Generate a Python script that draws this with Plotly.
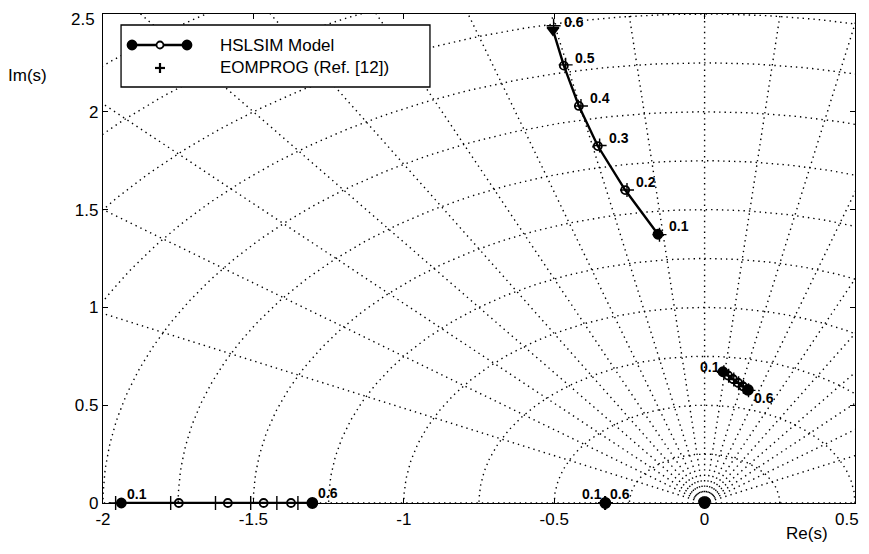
import math
import plotly.graph_objects as go

# ---------------- grid parameters (s-plane grid) ----------------
zeta_lines = [-1.0, -0.9, -0.8, -0.7, -0.6, -0.5, -0.4, -0.3, -0.2, -0.1, 0.0,
              0.1, 0.2, 0.3, 0.4, 0.5, 0.6, 0.7, 0.8, 0.9, 1.0]
wn_circles = [0.25, 0.5, 0.75, 1.0, 1.25, 1.5, 1.75, 2.0, 2.25, 2.5, 2.75, 3.0]

# ---------------- data ----------------
param_labels = ["0.1", "0.2", "0.3", "0.4", "0.5", "0.6"]

# HSLSIM model roots
hs_up_re = [-0.155, -0.264, -0.355, -0.418, -0.468, -0.504]
hs_up_im = [1.374, 1.600, 1.825, 2.030, 2.236, 2.418]

hs_mid_re = [0.061, 0.078, 0.094, 0.111, 0.127, 0.144]
hs_mid_im = [0.671, 0.652, 0.634, 0.615, 0.597, 0.578]

hs_real_re = [-1.939, -1.748, -1.585, -1.466, -1.375, -1.304]
hs_real_im = [0.0, 0.0, 0.0, 0.0, 0.0, 0.0]

hs_p33_re = [-0.330, -0.330, -0.330, -0.330, -0.330, -0.330]
hs_p33_im = [0.0, 0.0, 0.0, 0.0, 0.0, 0.0]

hs_org_re = [0.0, 0.0, 0.0, 0.0, 0.0, 0.0]
hs_org_im = [0.0, 0.0, 0.0, 0.0, 0.0, 0.0]

# EOMPROG (Ref. [12]) roots
eo_up_re = [-0.150, -0.258, -0.349, -0.411, -0.462, -0.502]
eo_up_im = [1.372, 1.600, 1.828, 2.030, 2.240, 2.440]

eo_mid_re = [0.064, 0.080, 0.097, 0.113, 0.129, 0.146]
eo_mid_im = [0.668, 0.650, 0.631, 0.612, 0.594, 0.576]

eo_real_re = [-1.958, -1.775, -1.626, -1.509, -1.422, -1.352]
eo_real_im = [0.0, 0.0, 0.0, 0.0, 0.0, 0.0]

eo_p33_re = [-0.330, -0.330, -0.330, -0.330, -0.330, -0.330]
eo_p33_im = [0.0, 0.0, 0.0, 0.0, 0.0, 0.0]

x_ticks = [-2, -1.5, -1, -0.5, 0, 0.5]
x_tick_text = ["-2", "-1.5", "-1", "-0.5", "0", "0.5"]
y_ticks = [0, 0.5, 1, 1.5, 2, 2.5]
y_tick_text = ["0", "0.5", "1", "1.5", "2", "2.5"]

FONT = "Liberation Sans, Arial, Helvetica, sans-serif"
GRID = dict(color="#000000", width=1.4, dash="1.4px,4px")

fig = go.Figure()

# ---------------- s-plane grid ----------------
R = 4.0
for z in zeta_lines:
    fig.add_trace(go.Scatter(
        x=[0.0, -z * R], y=[0.0, math.sqrt(max(0.0, 1 - z * z)) * R],
        mode="lines", line=GRID, hoverinfo="skip", showlegend=False))
for w in wn_circles:
    th = [math.pi * k / 240 for k in range(241)]
    fig.add_trace(go.Scatter(
        x=[w * math.cos(t) for t in th], y=[w * math.sin(t) for t in th],
        mode="lines", line=GRID, hoverinfo="skip", showlegend=False))


def end_marks(n, last="circle"):
    sym = ["circle"] + ["circle-open"] * (n - 2) + [last]
    size = [9] + [8] * (n - 2) + [10]
    return sym, size


def add_branch(xs, ys, last="circle"):
    sym, size = end_marks(len(xs), last)
    fig.add_trace(go.Scatter(
        x=xs, y=ys, mode="lines+markers", cliponaxis=False,
        line=dict(color="#000000", width=2.4),
        marker=dict(symbol=sym, size=size, color="#000000", opacity=1,
                    line=dict(color="#000000", width=1.8)),
        showlegend=False))


def add_plus(xs, ys):
    fig.add_trace(go.Scatter(
        x=xs, y=ys, mode="markers", cliponaxis=False,
        marker=dict(symbol="cross-thin", size=10, opacity=1,
                    line=dict(color="#000000", width=1.4)),
        showlegend=False))


add_plus(eo_up_re, eo_up_im)
add_plus(eo_mid_re, eo_mid_im)
add_plus(eo_real_re, eo_real_im)
add_plus(eo_p33_re, eo_p33_im)

add_branch(hs_up_re, hs_up_im, last="triangle-down")
add_branch(hs_mid_re, hs_mid_im)
add_branch(hs_real_re, hs_real_im)
add_branch(hs_p33_re, hs_p33_im)
add_branch(hs_org_re, hs_org_im)

# ---------------- parameter labels ----------------
ann = []


def lab(x, y, t, dx, dy):
    ann.append(dict(x=x, y=y, xref="x", yref="y", text="<b>%s</b>" % t,
                    showarrow=False, xshift=dx, yshift=dy,
                    xanchor="center", yanchor="middle",
                    font=dict(family=FONT, size=14, color="black")))


for i, t in enumerate(param_labels):
    lab(hs_up_re[i], hs_up_im[i], t, 21, 8)
lab(hs_real_re[0], hs_real_im[0], param_labels[0], 16, 9)
lab(hs_real_re[-1], hs_real_im[-1], param_labels[-1], 16, 10)
lab(hs_p33_re[0], hs_p33_im[0], param_labels[0], -13, 9)
lab(hs_p33_re[-1], hs_p33_im[-1], param_labels[-1], 15, 9)
lab(hs_mid_re[0], hs_mid_im[0], param_labels[0], -13, 5)
lab(hs_mid_re[-1], hs_mid_im[-1], param_labels[-1], 16, -8)

# axis titles
ann.append(dict(x=-0.101, y=0.875, xref="paper", yref="paper", text="Im(s)",
                xanchor="center", yanchor="middle",
                showarrow=False, font=dict(family=FONT, size=17, color="black")))
ann.append(dict(x=0.936, y=-0.062, xref="paper", yref="paper", text="Re(s)",
                xanchor="center", yanchor="middle",
                showarrow=False, font=dict(family=FONT, size=17, color="black")))

# edge tick labels drawn as annotations kept inside the figure area
ann.append(dict(x=1, y=0, xref="paper", yref="paper", text=x_tick_text[-1],
                xanchor="right", yanchor="top", xshift=6, yshift=-5,
                showarrow=False, font=dict(family=FONT, size=17, color="black")))
ann.append(dict(x=0, y=1, xref="paper", yref="paper", text=y_tick_text[-1],
                xanchor="right", yanchor="top", xshift=-6, yshift=6,
                showarrow=False, font=dict(family=FONT, size=17, color="black")))
x_tick_shown = x_tick_text[:-1] + [""]
y_tick_shown = y_tick_text[:-1] + [""]

# ---------------- manual legend ----------------
shapes = [dict(type="rect", xref="paper", yref="paper", x0=0.024, x1=0.4348,
               y0=0.8507, y1=0.9775, line=dict(color="black", width=1.3),
               fillcolor="white", layer="above")]
ly1 = 0.9366
ly2 = 0.8896
shapes.append(dict(type="line", xref="paper", yref="paper", x0=0.0386, x1=0.1117,
                   y0=ly1, y1=ly1, line=dict(color="black", width=2.4), layer="above"))
for cx, filled in [(0.0386, True), (0.0758, False), (0.1117, True)]:
    r = 4.5 if filled else 3.5
    shapes.append(dict(type="circle", xref="paper", yref="paper",
                       xsizemode="pixel", ysizemode="pixel", xanchor=cx, yanchor=ly1,
                       x0=-r, x1=r, y0=-r, y1=r,
                       fillcolor="black" if filled else "white",
                       line=dict(color="black", width=1.8), layer="above"))
shapes.append(dict(type="line", xref="paper", yref="paper", xsizemode="pixel",
                   ysizemode="pixel", xanchor=0.0758, yanchor=ly2, x0=-5, x1=5, y0=0, y1=0,
                   line=dict(color="black", width=2.2), layer="above"))
shapes.append(dict(type="line", xref="paper", yref="paper", xsizemode="pixel",
                   ysizemode="pixel", xanchor=0.0758, yanchor=ly2, x0=0, x1=0, y0=-5, y1=5,
                   line=dict(color="black", width=2.2), layer="above"))
ann.append(dict(x=0.1535, y=ly1, xref="paper", yref="paper", text="HSLSIM Model",
                xanchor="left", yanchor="middle", showarrow=False,
                font=dict(family=FONT, size=17, color="black")))
ann.append(dict(x=0.1535, y=ly2, xref="paper", yref="paper", text="EOMPROG (Ref. [12])",
                xanchor="left", yanchor="middle", showarrow=False,
                font=dict(family=FONT, size=17, color="black")))

axis_common = dict(showgrid=False, zeroline=False, showline=True, linecolor="black",
                   linewidth=1.3, mirror="ticks", ticks="inside", ticklen=5,
                   tickcolor="black", tickwidth=1.2,
                   tickfont=dict(family=FONT, size=17, color="black"))

# page body adds an 8px margin around the figure; size the figure so the page fits
fig.update_layout(
    width=853, height=538,
    margin=dict(l=95, r=6, t=6, b=43),
    paper_bgcolor="white", plot_bgcolor="white",
    showlegend=False,
    xaxis=dict(range=[-2, 0.5], tickvals=x_ticks, ticktext=x_tick_shown, **axis_common),
    yaxis=dict(range=[0, 2.5], tickvals=y_ticks, ticktext=y_tick_shown, **axis_common),
    annotations=ann, shapes=shapes,
    font=dict(family=FONT, size=17, color="black"),
)

fig.write_html("out.html")
